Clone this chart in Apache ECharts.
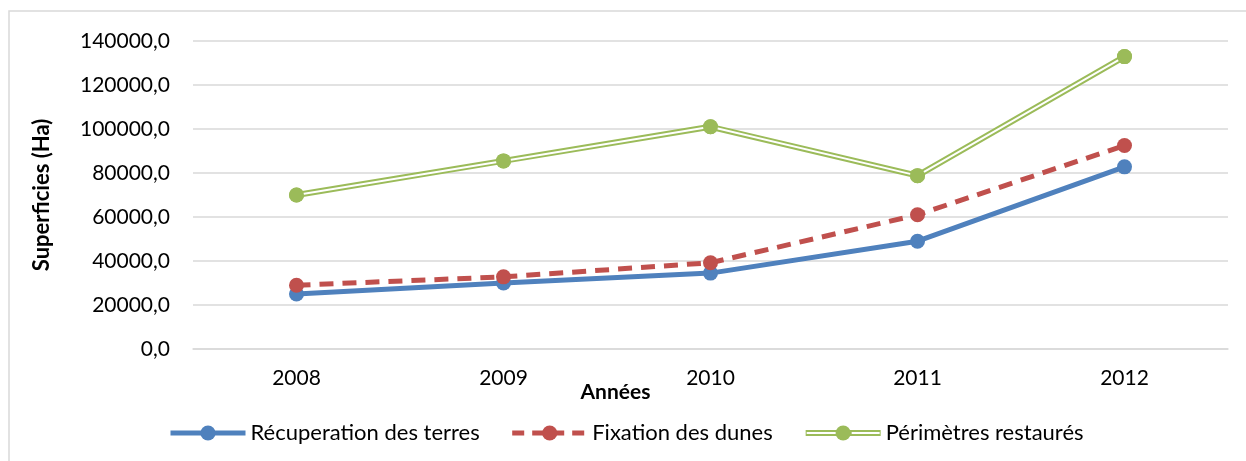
<!DOCTYPE html>
<html style="height: 100%">
<head>
<meta charset="utf-8">
</head>
<body style="height: 100%; margin: 0; background: #fff">
<div id="container" style="height: 461px; width: 1246px;"></div>
<script type="text/javascript" src="https://cdn.jsdelivr.net/npm/echarts@6/dist/echarts.min.js"></script>
<script type="text/javascript">
var years = ['2008', '2009', '2010', '2011', '2012'];
var recuperation = [25000, 30000, 34500, 49000, 82800];
var fixation = [29000, 32800, 39200, 61000, 92500];
var perimetres = [70000, 85500, 101000, 78800, 132900];

var fontFam = 'Lato, "Noto Sans", sans-serif';
var chart = echarts.init(document.getElementById('container'));

var frame = {
    type: 'rect',
    shape: { x: 9, y: 11, width: 1250, height: 470 },
    style: { fill: 'none', stroke: '#d9d9d9', lineWidth: 1.5 },
    silent: true
};

var option = {
    animation: false,
    textStyle: { fontFamily: fontFam },
    graphic: [frame],
    grid: { left: 193, right: 18, top: 41, bottom: 112 },
    legend: {
        bottom: 12,
        left: 163,
        itemWidth: 75,
        itemHeight: 19,
        itemGap: 30,
        textStyle: { fontSize: 22, color: '#000', fontFamily: fontFam },
        data: [
            { name: 'Récuperation des terres', lineStyle: { width: 5 } },
            { name: 'Fixation des dunes', lineStyle: { width: 5, type: [12, 8] } },
            { name: 'Périmètres restaurés', lineStyle: { width: 6 } }
        ]
    },
    xAxis: {
        type: 'category',
        data: years,
        name: 'Années',
        nameLocation: 'middle',
        nameGap: 33,
        nameMoveOverlap: false,
        // title sits a bit left of the centre, like the original
        nameTextStyle: { fontSize: 21, fontWeight: 'bold', color: '#000', padding: [0, 190, 0, 0] },
        axisLine: { lineStyle: { color: '#d9d9d9', width: 1.5 } },
        axisTick: { show: false },
        axisLabel: { fontSize: 21, color: '#000', margin: 19 }
    },
    yAxis: {
        type: 'value',
        min: 0,
        max: 140000,
        interval: 20000,
        name: 'Superficies (Ha)',
        nameLocation: 'middle',
        nameGap: 140,
        nameTextStyle: { fontSize: 22, fontWeight: 'bold', color: '#000' },
        axisLine: { show: false },
        axisTick: { show: false },
        splitLine: { lineStyle: { color: '#d9d9d9', width: 1.5 } },
        axisLabel: {
            fontSize: 21, color: '#000', margin: 23,
            formatter: function (v) { return v.toFixed(1).replace('.', ','); }
        }
    },
    series: [{
        name: 'Récuperation des terres',
        type: 'line',
        data: recuperation,
        symbol: 'circle',
        symbolSize: 15,
        itemStyle: { color: '#4f81bd' },
        lineStyle: { color: '#4f81bd', width: 5 },
        z: 3
    }, {
        name: 'Fixation des dunes',
        type: 'line',
        data: fixation,
        symbol: 'circle',
        symbolSize: 15,
        itemStyle: { color: '#c0504d' },
        lineStyle: { color: '#c0504d', width: 5, type: [14, 9] },
        z: 4
    }, {
        name: 'Périmètres restaurés',
        type: 'line',
        data: perimetres,
        symbol: 'circle',
        symbolSize: 15,
        itemStyle: { color: '#9bbb59' },
        lineStyle: { color: '#9bbb59', width: 6 },
        z: 5
    }, {
        // white centre line -> double line look
        name: 'inner',
        type: 'line',
        data: perimetres,
        symbol: 'none',
        lineStyle: { color: '#fff', width: 2 },
        silent: true,
        z: 6
    }, {
        name: 'markers',
        type: 'line',
        data: perimetres,
        symbol: 'circle',
        symbolSize: 15,
        itemStyle: { color: '#9bbb59' },
        lineStyle: { width: 0, opacity: 0 },
        silent: true,
        z: 7
    }]
};

chart.setOption(option);

// white centre stroke on the green legend icon too
var legendView = chart._componentsViews.filter(function (v) { return v.type === 'legend.plain'; })[0];
if (legendView) {
    var cg = legendView.getContentGroup();
    var g = cg.children()[2];
    if (g) {
        var x0 = cg.x + g.x + legendView.group.x;
        var y0 = cg.y + g.y + legendView.group.y + 19 / 2;
        chart.setOption({
            graphic: [frame, {
                type: 'line', z: 200, silent: true,
                shape: { x1: x0 + 1, y1: y0, x2: x0 + 30, y2: y0 },
                style: { stroke: '#fff', lineWidth: 2 }
            }, {
                type: 'line', z: 200, silent: true,
                shape: { x1: x0 + 46, y1: y0, x2: x0 + 74, y2: y0 },
                style: { stroke: '#fff', lineWidth: 2 }
            }]
        });
    }
}
</script>
</body>
</html>
